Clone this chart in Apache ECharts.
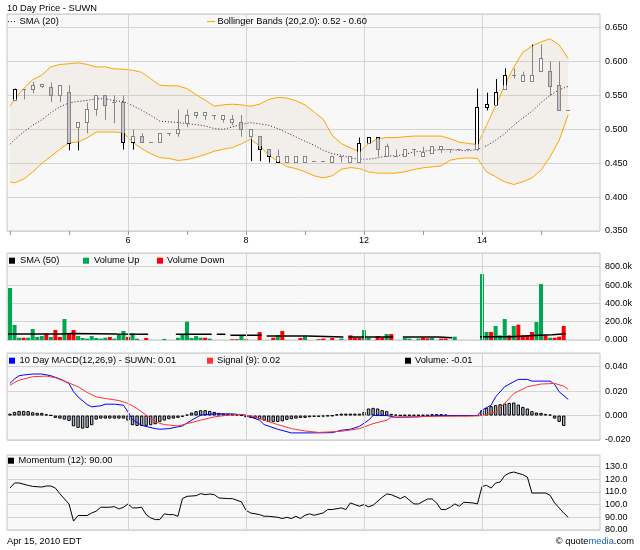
<!DOCTYPE html>
<html><head><meta charset="utf-8">
<script src="https://cdn.jsdelivr.net/npm/echarts@6/dist/echarts.min.js"></script>
<style>html,body{margin:0;padding:0;background:#fff;}#c{width:640px;height:550px;}</style>
</head><body><div id="c"></div>
<script>
// ---------- DATA (x positions are half-hour slots; 13 slots per trading day) ----------
const dayTickSlots = [0, 13, 26, 39, 52, 65, 78, 91, 104, 117];
const dayLabelSlots = [26, 52, 78, 104];
const dayLabels = ['6', '8', '12', '14'];

// hourly candles, candle k sits at slot 2k+1
const candleOpen  = [.542,.559,.558,.563,.562,.550,.554,.503,.510,.529,.550,.540,.539,.480,.490,.480,.480,.494,.494,.509,.521,.521,.521,.514,.510,.510,.490,.490,.470,.451,.451,.451,.451,.452,.452,.451,.460,.451,.451,.479,.488,.460,.460,.460,.470,.460,.465,.470,.470,.470,.470,.470,.532,.535,.558,.579,.570,.570,.585,.585,.564,.528];
const candleClose = [.558,.559,.564,.566,.550,.564,.479,.510,.529,.550,.535,.540,.480,.490,.480,.480,.494,.494,.500,.521,.525,.525,.521,.521,.514,.500,.500,.470,.460,.460,.460,.460,.460,.452,.452,.460,.460,.460,.479,.488,.470,.475,.460,.470,.470,.466,.475,.475,.470,.470,.470,.532,.536,.554,.579,.579,.579,.579,.604,.563,.528,.528];
const candleLow   = [.542,.544,.553,.561,.540,.540,.469,.469,.494,.520,.514,.509,.470,.470,.480,.480,.480,.490,.489,.503,.516,.514,.514,.510,.506,.489,.453,.453,.451,.451,.451,.451,.451,.452,.452,.451,.451,.451,.451,.479,.460,.460,.460,.460,.460,.460,.465,.465,.465,.470,.470,.468,.528,.535,.558,.575,.570,.570,.585,.549,.528,.528];
const candleHigh  = [.560,.559,.570,.567,.569,.564,.565,.510,.539,.550,.550,.550,.550,.500,.494,.480,.494,.494,.529,.529,.525,.525,.521,.521,.521,.521,.500,.490,.470,.470,.460,.460,.460,.452,.452,.460,.460,.460,.488,.488,.488,.479,.470,.470,.470,.474,.475,.475,.470,.470,.470,.560,.554,.574,.590,.590,.585,.625,.625,.600,.600,.528];

// Bollinger bands (20,2.0): first value at slot 0, then one per candle
const bbUpper = [.534,.544,.560,.573,.580,.592,.5956,.5966,.598,.5956,.592,.592,.589,.5887,.587,.584,.5745,.565,.564,.564,.560,.551,.543,.534,.536,.537,.536,.534,.537,.544,.547,.546,.542,.536,.5255,.515,.491,.479,.4725,.467,.479,.486,.4877,.4877,.489,.490,.490,.490,.490,.486,.481,.479,.4775,.506,.535,.5647,.5917,.6137,.6225,.629,.6333,.6245,.604];
const bbMid   = [.478,.4848,.496,.5059,.514,.5245,.533,.539,.541,.5426,.545,.545,.542,.541,.535,.528,.5206,.512,.511,.510,.5083,.5069,.505,.501,.500,.5034,.5073,.5098,.508,.506,.501,.495,.4887,.4824,.4765,.469,.464,.4618,.4578,.4559,.4559,.4578,.4608,.4608,.4627,.4667,.4676,.469,.470,.470,.469,.4681,.4706,.4755,.4838,.4936,.5059,.5167,.5265,.5392,.550,.5583,.5632];
const bbLower = [.4225,.421,.4265,.437,.4495,.460,.4706,.480,.4814,.4873,.496,.496,.496,.495,.481,.4716,.464,.4583,.457,.454,.4554,.4588,.4627,.4676,.4706,.473,.4784,.4853,.4755,.4618,.453,.445,.442,.4373,.4314,.4284,.4314,.441,.4436,.442,.4373,.4353,.4353,.4353,.4373,.4407,.4431,.4446,.446,.4544,.457,.4578,.457,.4373,.430,.4225,.4186,.4225,.4284,.4397,.4593,.4838,.5216];

// half-hour volume, thousands: [slot, value]
const volUp = [[0,568],[1,164],[2,25],[4,25],[5,120],[6,33],[7,43],[9,33],[12,229],[15,43],[16,22],[17,15],[18,43],[19,22],[20,15],[21,25],[23,15],[24,62],[25,98],[27,73],[28,15],[34,12],[37,25],[38,62],[39,200],[40,22],[41,43],[42,25],[44,15],[51,47],[59,54],[65,40],[73,15],[78,109],[79,25],[83,65],[87,22],[88,15],[90,15],[93,25],[98,36],[104,720],[105,87],[107,153],[108,51],[109,229],[111,153],[116,196],[117,611],[119,25]];
const volDown = [[3,25],[8,69],[10,109],[11,33],[13,69],[14,109],[22,33],[26,33],[30,22],[43,25],[49,8],[50,8],[52,8],[55,87],[58,25],[60,98],[64,22],[68,8],[69,15],[71,22],[75,51],[76,25],[77,25],[81,44],[82,25],[84,65],[91,25],[92,18],[95,15],[96,15],[106,87],[110,51],[112,167],[113,51],[114,51],[115,87],[118,51],[120,25],[121,36],[122,153]];
// SMA(50) of volume: [first slot, last slot, value]
const volSmaSegments = [[0,11,65],[12,13,72],[14,23,65],[24,30,62],[37,44,62],[46,47,62],[49,55,51],[57,65,44],[66,73,33],[75,84,33],[87,94,33],[95,97,25],[104,110,36],[111,116,51],[117,119,58],[120,122,69]];

// MACD(12,26,9)
const macdHist = [.0016,.003,.0038,.0038,.0036,.0027,.0022,.0022,.0011,.0003,-.0019,-.0025,-.0033,-.0044,-.0088,-.0101,-.0107,-.0101,-.0079,-.0033,-.0025,-.0025,-.0025,-.0025,-.0025,-.0025,-.0041,-.0079,-.0085,-.0085,-.0085,-.0079,-.0071,-.0052,-.0041,-.003,-.0025,-.0019,-.0011,.0008,.0025,.0036,.0044,.0044,.0038,.003,.0022,.0016,.0014,.0011,.0008,.0003,-.0014,-.0019,-.0025,-.003,-.0041,-.0052,-.0052,-.0052,-.0047,-.0036,-.003,-.0025,-.0019,-.0019,-.0014,-.0011,-.0011,-.0008,-.0005,-.0003,.0011,.0016,.0016,.0016,.0016,.0016,.003,.0058,.0063,.0058,.0044,.0036,.0014,.0008,.0003,.0005,.0005,.0005,.0005,.0005,.0005,.0011,.0011,.0011,.0008,0,0,0,0,0,0,0,.0044,.0063,.0077,.0085,.0093,.0099,.0104,.0107,.009,.0071,.0058,.0036,.0025,.0022,.0014,.0008,-.0025,-.0052,-.0085];
const macdLine = [[0,.0263],[1,.030],[2,.0326],[3,.0332],[5,.034],[7,.034],[9,.0326],[11,.030],[13,.0263],[14,.0195],[15,.0153],[17,.009],[18,.0071],[20,.008],[21,.0093],[23,.0093],[25,.0085],[26,.003],[27,-.0033],[29,-.008],[32,-.0107],[33,-.0112],[35,-.0107],[38,-.0085],[40,-.0038],[42,.0003],[45,.0014],[49,.0014],[52,.0003],[55,-.0038],[56,-.0074],[59,-.0112],[62,-.0142],[66,-.0142],[71,-.014],[73,-.012],[75,-.0112],[77,-.0088],[79,-.0038],[80,0],[83,0],[85,-.0014],[90,-.0011],[94,0],[103,0],[104,.0044],[106,.0085],[107,.0153],[109,.0236],[111,.0277],[112,.0296],[114,.0296],[115,.0282],[119,.0282],[120,.0255],[121,.0195],[123,.0132]];
const signalLine = [[0,.0249],[2,.029],[5,.0318],[8,.0323],[10,.031],[12,.0282],[15,.0236],[17,.0189],[19,.0153],[21,.014],[24,.0123],[26,.0099],[28,.0058],[30,.0003],[32,-.0052],[34,-.0074],[37,-.0085],[39,-.0066],[42,-.0038],[45,-.0011],[48,.0003],[51,.0008],[54,-.0011],[56,-.0038],[59,-.0074],[62,-.0107],[65,-.0126],[68,-.0138],[73,-.0129],[77,-.0107],[80,-.0066],[83,-.0038],[84,-.0014],[90,-.0008],[98,-.0005],[101,-.0005],[104,0],[107,.003],[109,.0099],[111,.018],[114,.0236],[117,.0258],[120,.0263],[122,.0241],[123,.0214]];

// Momentum(12)
const momentum = [[0,113],[1,117],[2,117],[4,115.1],[5,114.3],[7,113.8],[8,114.6],[9,114.6],[10,113],[11,108.5],[12,104.4],[13,100.5],[14,87],[15,91.4],[17,91.4],[18,93.4],[19,94.8],[20,97.9],[22,97.9],[23,98.4],[24,96.6],[25,97.9],[26,100.5],[27,97.4],[28,97.4],[29,97.9],[30,92.1],[31,89.5],[32,88.2],[33,88.2],[34,92.7],[35,92.1],[36,92.1],[37,90.8],[38,104.7],[39,106.5],[41,107],[42,108.6],[43,107.8],[44,108.3],[45,107.8],[46,105.2],[48,104.7],[49,104.7],[51,102.1],[52,95.5],[53,93.4],[55,92.1],[56,90.8],[57,90.8],[59,90],[60,89],[61,90],[62,89],[63,90.8],[64,89],[65,91.6],[66,92.7],[67,91.6],[69,93.4],[70,96.1],[71,96.1],[73,97.4],[74,96.1],[75,101.3],[76,100],[77,98.7],[78,100],[79,98.2],[80,99.5],[82,105.7],[83,108.3],[84,107.8],[86,104.7],[87,106.5],[89,100.5],[90,100.5],[92,104.4],[93,104.4],[94,101.3],[95,96.1],[96,96.1],[97,97.9],[98,100.5],[99,98.7],[100,101.8],[102,101.3],[103,100.5],[104,114.3],[105,115.1],[106,113],[107,117],[108,117.7],[109,122.7],[110,124.8],[111,125.6],[113,123.5],[114,121.6],[115,109.1],[118,109.1],[119,107.3],[120,101.3],[122,93.4],[123,90]];

// ---------- CHART ----------
const FONT = '"Liberation Sans", Arial, sans-serif';
const FS = 9.3, AFS = 9;
const GRID_LINE = '#d4d4d4';
const BLACK = '#000000', GRAY = '#858585';

const bandSlots = bbUpper.map((_, i) => i === 0 ? 0 : 2 * i - 1);
const candleData = candleOpen.map((o, k) => [2 * k + 1, o, candleClose[k], candleLow[k], candleHigh[k]]);

function renderCandle(params, api) {
  const k = params.dataIndex;
  const x = api.value(0), o = api.value(1), c = api.value(2), lo = api.value(3), hi = api.value(4);
  const up = bbUpper[k + 1], dn = bbLower[k + 1];
  const px = Math.round(api.coord([x, o])[0]);
  const Y = v => api.coord([x, v])[1];
  const cy = v => Math.round(Y(v) - 0.5) + 0.5;
  const top = Math.max(o, c), bot = Math.min(o, c);
  const L = px - 2 + 0.5, R = px + 1 + 0.5, W = px + 0.5;
  const colAt = v => (v > up + 1e-9 || v < dn - 1e-9) ? BLACK : GRAY;
  const ch = [];
  const vline = (xx, v1, v2, col) => { if (v2 > v1) ch.push({type: 'line', shape: {x1: xx, y1: Y(v1), x2: xx, y2: Y(v2)}, style: {stroke: col, lineWidth: 1}}); };
  if (top > bot) {
    ch.push({type: 'rect', shape: {x: L, y: cy(top), width: R - L, height: cy(bot) - cy(top)}, style: {fill: c < o ? '#c7c7cf' : '#ffffff'}});
  }
  const regs = [[-1, dn, BLACK], [dn, up, GRAY], [up, 2, BLACK]];
  regs.forEach(([a, b, col]) => {
    vline(W, Math.max(top, a), Math.min(hi, b), col);
    vline(W, Math.max(lo, a), Math.min(bot, b), col);
    if (top > bot) {
      vline(L, Math.max(bot, a), Math.min(top, b), col);
      vline(R, Math.max(bot, a), Math.min(top, b), col);
    }
  });
  ch.push({type: 'line', shape: {x1: L - 0.5, y1: cy(top), x2: R + 0.5, y2: cy(top)}, style: {stroke: colAt(top), lineWidth: 1}});
  if (top > bot) ch.push({type: 'line', shape: {x1: L - 0.5, y1: cy(bot), x2: R + 0.5, y2: cy(bot)}, style: {stroke: colAt(bot), lineWidth: 1}});
  return {type: 'group', children: ch};
}

function renderBand(params, api) {
  const pts = [];
  bandSlots.forEach((s, i) => pts.push(api.coord([s, bbUpper[i]])));
  for (let i = bandSlots.length - 1; i >= 0; i--) pts.push(api.coord([bandSlots[i], bbLower[i]]));
  return {type: 'polygon', shape: {points: pts}, style: {fill: 'rgba(205,185,155,0.14)'}};
}

const smaData = [];
volSmaSegments.forEach((s, i) => {
  smaData.push([s[0] - 0.45, s[2]], [s[1] + 0.45, s[2]]);
  const nx = volSmaSegments[i + 1];
  if (!nx || nx[0] > s[1] + 1) smaData.push([s[1] + 0.5, '-']);
});

const gridDefs = [
  {top: 14, height: 217},
  {top: 253, height: 87},
  {top: 353, height: 87},
  {top: 455, height: 75}
];
const grid = gridDefs.map(g => ({left: 7, right: 40, top: g.top, height: g.height, show: true, backgroundColor: '#f8f8f8', borderColor: '#c6c6c6', borderWidth: 1}));

const xAxis = gridDefs.map((g, i) => ({
  type: 'value', gridIndex: i, min: -0.66, max: 130,
  axisLine: {show: false}, splitLine: {show: false},
  axisTick: i === 0 ? {show: true, customValues: dayTickSlots, length: 4, lineStyle: {color: '#9a9a9a'}} : {show: false},
  axisLabel: i === 0 ? {show: true, customValues: dayLabelSlots, margin: 5, fontFamily: FONT, fontSize: AFS, color: '#000',
    formatter: v => { const idx = dayLabelSlots.indexOf(Math.round(v)); return idx >= 0 ? dayLabels[idx] : ''; }} : {show: false}
}));

function isStep(v, step) { const r = v / step; return Math.abs(r - Math.round(r)) < 1e-6; }
function yAx(i, min, max, interval, fmt) {
  return {
    type: 'value', gridIndex: i, position: 'right', min, max, interval,
    axisLine: {show: false}, axisTick: {show: false},
    splitLine: {show: true, lineStyle: {color: GRID_LINE, width: 1}},
    axisLabel: {margin: 5, fontFamily: FONT, fontSize: AFS, color: '#000',
      formatter: v => isStep(v, interval) ? fmt(v) : ''}
  };
}
const yAxis = [
  yAx(0, 0.35, 0.67, 0.05, v => v.toFixed(3)),
  yAx(1, 0, 950, 200, v => Math.abs(v) < 1e-9 ? '0.000' : v.toFixed(1) + 'k'),
  yAx(2, -0.02, 0.0512, 0.02, v => (Math.abs(v) < 1e-9 ? 0 : v).toFixed(3)),
  yAx(3, 80, 139, 10, v => v.toPrecision(4))
];

function dayLines(i) {
  return {
    type: 'line', xAxisIndex: i, yAxisIndex: i, z: 1, silent: true,
    data: [], showSymbol: false,
    markLine: {silent: true, symbol: ['none', 'none'], label: {show: false}, animation: false,
      lineStyle: {color: GRID_LINE, type: 'solid', width: 1},
      data: dayLabelSlots.map(s => ({xAxis: s}))}
  };
}
function lineS(i, data, color, extra) {
  return Object.assign({type: 'line', xAxisIndex: i, yAxisIndex: i, data, showSymbol: false, symbol: 'none', silent: true,
    lineStyle: {color, width: 1}, z: 3}, extra || {});
}

const series = [
  dayLines(0), dayLines(1), dayLines(2), dayLines(3),
  {type: 'custom', xAxisIndex: 0, yAxisIndex: 0, data: [[0, 0.5]], encode: {x: 0, y: 1}, renderItem: renderBand, z: 1, silent: true},
  lineS(0, bandSlots.map((s, i) => [s, bbUpper[i]]), '#ffa500'),
  lineS(0, bandSlots.map((s, i) => [s, bbLower[i]]), '#ffa500'),
  lineS(0, bandSlots.map((s, i) => [s, bbMid[i]]), '#4a0a5a', {lineStyle: {color: '#4a0a5a', width: 1, type: [1, 2]}}),
  {type: 'custom', xAxisIndex: 0, yAxisIndex: 0, data: candleData, encode: {x: 0, y: [1, 2, 3, 4]}, renderItem: renderCandle, z: 4, silent: true},
  {type: 'bar', xAxisIndex: 1, yAxisIndex: 1, data: volUp, barWidth: 4, barGap: '-100%', itemStyle: {color: '#00a650'}, silent: true, z: 2},
  {type: 'bar', xAxisIndex: 1, yAxisIndex: 1, data: volDown, barWidth: 4, barGap: '-100%', itemStyle: {color: '#ff0000'}, silent: true, z: 2},
  lineS(1, smaData, '#000', {lineStyle: {color: '#000', width: 1.5}, connectNulls: false}),
  {type: 'bar', xAxisIndex: 2, yAxisIndex: 2, data: macdHist.map((v, j) => [j, v]), barWidth: 3.4,
    itemStyle: {color: '#b3bccb', borderColor: '#000', borderWidth: 1}, silent: true, z: 2},
  lineS(2, macdLine, '#0000ff'),
  lineS(2, signalLine, '#ff3333'),
  lineS(3, momentum, '#000')
];

function txt(x, y, text, extra) {
  return {type: 'text', x, y, z: 100, silent: true,
    style: Object.assign({text, fill: '#000', fontFamily: FONT, fontSize: FS, verticalAlign: 'middle'}, extra || {})};
}
function sq(x, y, color) { return {type: 'rect', z: 100, silent: true, shape: {x, y: y - 3, width: 6, height: 6}, style: {fill: color}}; }
function hl(x1, x2, y, color, dash) { return {type: 'line', z: 100, silent: true, shape: {x1, y1: y, x2, y2: y}, style: {stroke: color, lineWidth: 1, lineDash: dash || null}}; }

const graphic = [
  txt(7, 8, '10 Day Price - SUWN'),
  hl(8, 17, 21.5, '#4a0a5a', [1, 2]), txt(19.5, 21.5, 'SMA (20)'),
  hl(207, 215, 21.5, '#ffa500'), txt(217.5, 21.5, 'Bollinger Bands (20,2.0): 0.52 - 0.60'),
  sq(9, 260.7, '#000'), txt(20, 260.7, 'SMA (50)'),
  sq(83, 260.7, '#00a650'), txt(94, 260.7, 'Volume Up'),
  sq(157, 260.7, '#ff0000'), txt(167, 260.7, 'Volume Down'),
  sq(9, 360.7, '#0000ff'), txt(19.5, 360.7, '10 Day MACD(12,26,9) - SUWN: 0.01'),
  sq(207, 360.7, '#ff3333'), txt(217, 360.7, 'Signal (9): 0.02'),
  sq(405, 360.7, '#000'), txt(415, 360.7, 'Volume: -0.01'),
  sq(8, 460.7, '#000'), txt(18.5, 460.7, 'Momentum (12): 90.00'),
  txt(7, 541.5, 'Apr 15, 2010 EDT'),
  {type: 'text', x: 634, y: 541.5, z: 100, silent: true,
    style: {text: '{a|\u00a9 quote}{b|media}{a|.com}', align: 'right', verticalAlign: 'middle',
      rich: {a: {fill: '#000', fontFamily: FONT, fontSize: FS}, b: {fill: '#1a5fb4', fontFamily: FONT, fontSize: FS}}}}
];

const chart = echarts.init(document.getElementById('c'), null, {renderer: 'canvas'});
chart.setOption({animation: false, backgroundColor: '#ffffff', grid, xAxis, yAxis, series, graphic});
</script>
</body></html>
